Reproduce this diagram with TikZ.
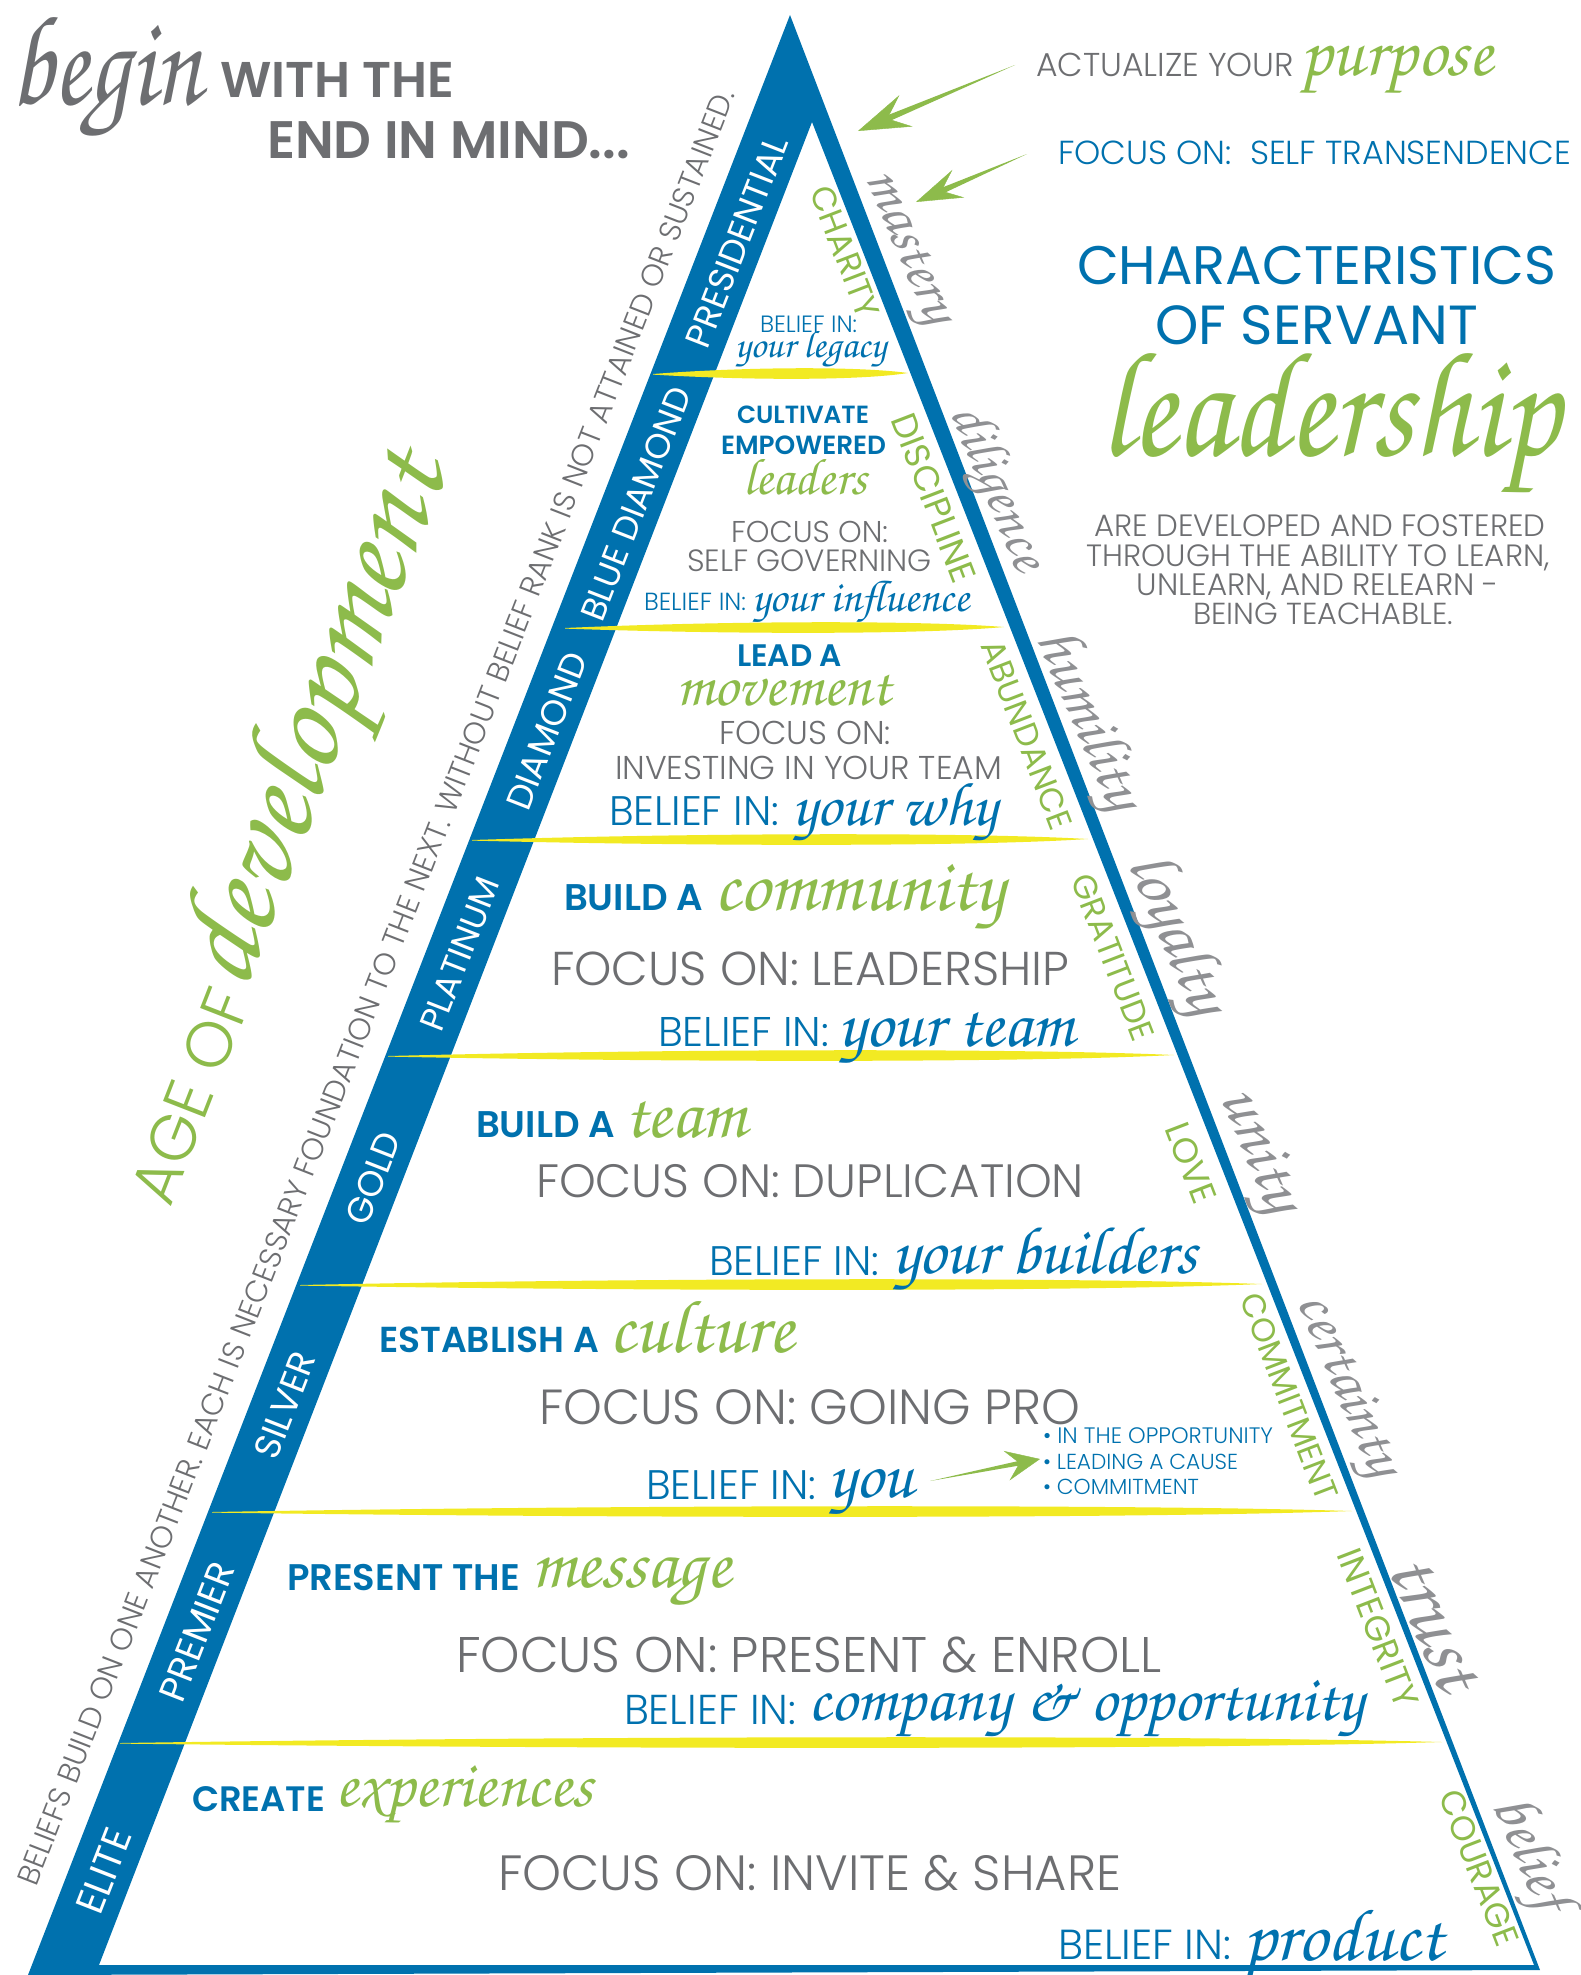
\documentclass[tikz,border=0pt]{standalone}
\usepackage[T1]{fontenc}
\usepackage{fontspec}
\usepackage{graphicx}
\usetikzlibrary{arrows.meta,calc}
\newfontfamily\fLt{Poppins Light}
\newfontfamily\fRg{Poppins}
\newfontfamily\fBd{Poppins SemiBold}
\newcommand\fScr{\usefont{T1}{pzc}{mb}{it}}
\definecolor{pblue}{HTML}{0071AE}
\definecolor{pgreen}{HTML}{8DBB4B}
\definecolor{pgray}{HTML}{6D6E71}
\definecolor{lgray}{HTML}{8F9093}
\definecolor{pyellow}{HTML}{F2EA23}
\newcommand\fw[2]{\resizebox{#1pt}{!}{#2}}
\newcommand\brush[3]{\fill[pyellow] (#1,#3) .. controls ({#1+0.35*(#2-#1)},{#3-7}) and ({#1+0.8*(#2-#1)},{#3-8}) .. (#2,{#3-1}) .. controls ({#1+0.8*(#2-#1)},{#3+7}) and ({#1+0.35*(#2-#1)},{#3+6}) .. (#1,{#3+0.6}) -- cycle;}
% tapered arrow: tail, head, shaft-back distance, half width, tip spec
\newcommand\garr[5]{%
 \coordinate (#1b) at ($(#2)!#3!(#1)$);
 \fill[pgreen] (#1) -- ($(#1b)!#4!90:(#1)$) -- ($(#1b)!#4!-90:(#1)$) -- cycle;
 \draw[pgreen,line width=0.4pt,-{Stealth[#5]}] (#1b) -- (#2);}
\begin{document}
\begin{tikzpicture}[x=1pt,y=-1pt,every node/.style={inner sep=0pt,outer sep=0pt}]
\tikzset{
 bw/.style={anchor=base west},
 bc/.style={anchor=base},
 bandlbl/.style={rotate=68.7,text=white},
 rlbl/.style={rotate=-69,text=pgreen},
 rscr/.style={rotate=-67,text=lgray},
}
\useasboundingbox (0,0) rectangle (1580,1975);
% pyramid frame
\fill[pblue,even odd rule] (790,15) -- (1540,1970) -- (28,1975) -- cycle (812,122) -- (1534,1965) -- (99,1965) -- cycle;
% yellow brush strokes
\brush{653}{908}{374}
\brush{565}{1004}{628}
\brush{472}{1088}{840}
\brush{388}{1174}{1056}
\brush{300}{1262}{1285}
\brush{212}{1352}{1512}
\brush{120}{1442}{1743}
% title
\node[bw,text=pgray] (tbegin) at (10,104) {\fw{192}{\scalebox{1}[1.25]{\fScr begin}}};
\node[bw,text=pgray] (twith) at (220,97) {\fw{234}{\fBd WITH THE}};
\node[bw,text=pgray] (tend) at (267,158) {\fw{363}{\fBd END IN MIND...}};
% top right
\node[bw,text=pgray] (tact) at (1036,76) {\fw{258}{\fLt ACTUALIZE YOUR}};
\node[bw,text=pgreen] (tpurp) at (1300,76) {\fw{193}{\fScr purpose}};
\node[bw,text=pblue] (tself) at (1058,164) {\fw{513}{\fLt FOCUS ON:\ \ SELF TRANSENDENCE}};
\node[bw,text=pblue] (tchar) at (1077,284) {\fw{479}{\fRg CHARACTERISTICS}};
\node[bw,text=pblue] (tserv) at (1155,344) {\fw{323}{\fRg OF SERVANT}};
\node[bw,text=pgreen] (tlead) at (1100,455) {\fw{460}{\scalebox{1}[1.15]{\fScr leadership}}};
\node[bc,text=pgray] (p1) at (1320,536) {\fw{451}{\fLt ARE DEVELOPED AND FOSTERED}};
\node[bc,text=pgray] (p2) at (1318,566) {\fw{463}{\fLt THROUGH THE ABILITY TO LEARN,}};
\node[bc,text=pgray] (p3) at (1318,595) {\fw{362}{\fLt UNLEARN, AND RELEARN -}};
\node[bc,text=pgray] (p4) at (1323,624) {\fw{260}{\fLt BEING TEACHABLE.}};
% arrows
\coordinate (a1t) at (1015,65); \coordinate (a1h) at (858,131);
\coordinate (a2t) at (1027,154); \coordinate (a2h) at (916,202);
\garr{a1t}{a1h}{28pt}{3.2pt}{length=52pt,width=34pt,inset=20pt}
\garr{a2t}{a2h}{26pt}{3pt}{length=46pt,width=30pt,inset=18pt}
% left side texts
\node[rotate=68.7,text=pgray] (tsent) at (376,987) {\fw{1925}{\fLt BELIEFS BUILD ON ONE ANOTHER. EACH IS NECESSARY FOUNDATION TO THE NEXT. WITHOUT BELIEF RANK IS NOT ATTAINED OR SUSTAINED.}};
\node[rotate=68.7,text=pgreen] (tage) at (190,1096) {\fw{224}{\fLt AGE OF}};
\node[rotate=68.7,text=pgreen] (tdev) at (322,722) {\fw{560}{\fScr development}};
% band labels
\node[bandlbl] (bpres) at (737,242) {\fw{224}{\fRg PRESIDENTIAL}};
\node[bandlbl] (bblue) at (636,504) {\fw{248}{\fRg BLUE DIAMOND}};
\node[bandlbl] (bdiam) at (547,731) {\fw{165}{\fRg DIAMOND}};
\node[bandlbl] (bplat) at (460,954) {\fw{162}{\fRg PLATINUM}};
\node[bandlbl] (bgold) at (373,1178) {\fw{96}{\fRg GOLD}};
\node[bandlbl] (bsilv) at (285,1405) {\fw{111}{\fRg SILVER}};
\node[bandlbl] (bprem) at (197,1632) {\fw{146}{\fRg PREMIER}};
\node[bandlbl] (belit) at (104,1871) {\fw{88}{\fRg ELITE}};
% right green labels
\node[rlbl] (rchar) at (845,252) {\fw{138}{\fRg CHARITY}};
\node[rlbl] (rdisc) at (934,498) {\fw{178}{\fRg DISCIPLINE}};
\node[rlbl] (rabun) at (1027,735) {\fw{200}{\fRg ABUNDANCE}};
\node[rlbl] (rgrat) at (1113,957) {\fw{176}{\fRg GRATITUDE}};
\node[rlbl] (rlove) at (1191,1163) {\fw{84}{\fRg LOVE}};
\node[rlbl] (rcomm) at (1289,1397) {\fw{219}{\fRg COMMITMENT}};
\node[rlbl] (rinte) at (1378,1628) {\fw{167}{\fRg INTEGRITY}};
\node[rlbl] (rcour) at (1479,1868) {\fw{164}{\fRg COURAGE}};
% right script words
\node[rscr] (smast) at (904,249) {\fw{161}{\fScr mastery}};
\node[rscr] (sdili) at (995,489) {\fw{175}{\fScr diligence}};
\node[rscr] (shumi) at (1086,721) {\fw{190}{\fScr humility}};
\node[rscr] (sloya) at (1174,935) {\fw{168}{\fScr loyalty}};
\node[rscr] (sunit) at (1255,1152) {\fw{129}{\fScr unity}};
\node[rscr] (scert) at (1344,1387) {\fw{193}{\fScr certainty}};
\node[rscr] (strus) at (1435,1622) {\fw{140}{\fScr trust}};
\node[rscr] (sbeli) at (1528,1855) {\fw{120}{\fScr belief}};
% tier 1
\node[bw,text=pblue] (t1b) at (760,332) {\fw{97}{\fLt BELIEF IN:}};
\node[bw,text=pblue] (t1s) at (735,357) {\fw{151}{\fScr your legacy}};
% tier 2
\node[bw,text=pblue] (t2h1) at (737,423) {\fw{132}{\fBd CULTIVATE}};
\node[bw,text=pblue] (t2h2) at (721,454) {\fw{165}{\fBd EMPOWERED}};
\node[bw,text=pgreen] (t2g) at (743,494) {\fw{124}{\fScr leaders}};
\node[bw,text=pgray] (t2f1) at (731,542) {\fw{157}{\fLt FOCUS ON:}};
\node[bw,text=pgray] (t2f2) at (687,571) {\fw{245}{\fLt SELF GOVERNING}};
\node[bw,text=pblue] (t2b) at (644,610) {\fw{102}{\fLt BELIEF IN:}};
\node[bw,text=pblue] (t2s) at (752,611) {\fw{218}{\fScr your influence}};
% tier 3
\node[bw,text=pblue] (t3h) at (737,666) {\fw{105}{\fBd LEAD A}};
\node[bw,text=pgreen] (t3g) at (676,705) {\fw{215}{\fScr movement}};
\node[bw,text=pgray] (t3f1) at (719,744) {\fw{172}{\fLt FOCUS ON:}};
\node[bw,text=pgray] (t3f2) at (615,779) {\fw{387}{\fLt INVESTING IN YOUR TEAM}};
\node[bw,text=pblue] (t3b) at (609,825) {\fw{170}{\fLt BELIEF IN:}};
\node[bw,text=pblue] (t3s) at (792,825) {\fw{205}{\fScr your why}};
% tier 4
\node[bw,text=pblue] (t4h) at (564,910) {\fw{139}{\fBd BUILD A}};
\node[bw,text=pgreen] (t4g) at (714,910) {\fw{290}{\fScr community}};
\node[bw,text=pgray] (t4f) at (551,985) {\fw{518}{\fLt FOCUS ON: LEADERSHIP}};
\node[bw,text=pblue] (t4b) at (658,1046) {\fw{171}{\fLt BELIEF IN:}};
\node[bw,text=pblue] (t4s) at (838,1046) {\fw{236}{\fScr your team}};
% tier 5
\node[bw,text=pblue] (t5h) at (476,1137) {\fw{139}{\fBd BUILD A}};
\node[bw,text=pgreen] (t5g) at (624,1137) {\fw{122}{\fScr team}};
\node[bw,text=pgray] (t5f) at (536,1197) {\fw{548}{\fLt FOCUS ON: DUPLICATION}};
\node[bw,text=pblue] (t5b) at (709,1275) {\fw{170}{\fLt BELIEF IN:}};
\node[bw,text=pblue] (t5s) at (892,1273) {\fw{305}{\fScr your builders}};
% tier 6
\node[bw,text=pblue] (t6h) at (379,1352) {\fw{220}{\fBd ESTABLISH A}};
\node[bw,text=pgreen] (t6g) at (609,1352) {\fw{185}{\fScr culture}};
\node[bw,text=pgray] (t6f) at (539,1424) {\fw{541}{\fLt FOCUS ON: GOING PRO}};
\node[bw,text=pblue] (t6l1) at (1043,1443) {\fw{230}{\fLt • IN THE OPPORTUNITY}};
\node[bw,text=pblue] (t6l2) at (1043,1469) {\fw{195}{\fLt • LEADING A CAUSE}};
\node[bw,text=pblue] (t6l3) at (1043,1494) {\fw{156}{\fLt • COMMITMENT}};
\node[bw,text=pblue] (t6b) at (646,1499) {\fw{170}{\fLt BELIEF IN:}};
\node[bw,text=pblue] (t6s) at (828,1497) {\fw{86}{\fScr you}};
\coordinate (a3t) at (930,1481); \coordinate (a3h) at (1040,1459);
\garr{a3t}{a3h}{18pt}{2.4pt}{length=34pt,width=30pt,inset=13pt}
% tier 7
\node[bw,text=pblue] (t7h) at (287,1590) {\fw{233}{\fBd PRESENT THE}};
\node[bw,text=pgreen] (t7g) at (531,1587) {\fw{200}{\fScr message}};
\node[bw,text=pgray] (t7f) at (456,1672) {\fw{706}{\fLt FOCUS ON: PRESENT \& ENROLL}};
\node[bw,text=pblue] (t7b) at (624,1724) {\fw{172}{\fLt BELIEF IN:}};
\node[bw,text=pblue] (t7s) at (808,1720) {\fw{555}{\fScr company \& opportunity}};
% tier 8
\node[bw,text=pblue] (t8h) at (192,1811) {\fw{133}{\fBd CREATE}};
\node[bw,text=pgreen] (t8g) at (335,1806) {\fw{258}{\fScr experiences}};
\node[bw,text=pgray] (t8f) at (498,1890) {\fw{623}{\fLt FOCUS ON: INVITE \& SHARE}};
\node[bw,text=pblue] (t8b) at (1058,1959) {\fw{173}{\fLt BELIEF IN:}};
\node[bw,text=pblue] (t8s) at (1243,1960) {\fw{200}{\fScr product}};
\end{tikzpicture}
\end{document}
